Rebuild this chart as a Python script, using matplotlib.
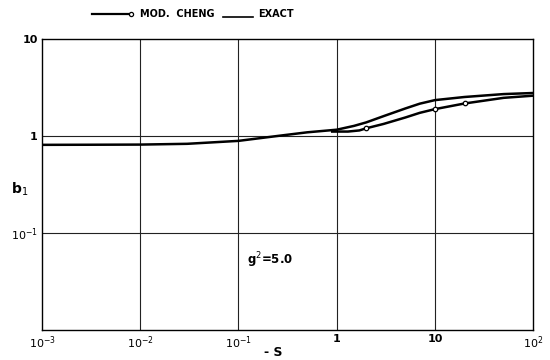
import matplotlib
matplotlib.use("Agg")
import matplotlib.pyplot as plt
from matplotlib.lines import Line2D

# b1 versus -s for g^2 = 5.0
exact_s = [1e-3, 3e-3, 1e-2, 3e-2, 0.1, 0.25, 0.5, 1.0, 1.5, 2.0, 3.0, 5.0, 7.0, 10.0, 20.0, 50.0, 100.0]
exact_b1 = [0.81, 0.812, 0.815, 0.83, 0.89, 1.0, 1.09, 1.16, 1.27, 1.38, 1.6, 1.92, 2.15, 2.34, 2.52, 2.7, 2.77]

cheng_s = [0.9, 1.3, 1.7, 2.0, 3.0, 5.0, 7.0, 10.0, 20.0, 50.0, 100.0]
cheng_b1 = [1.11, 1.11, 1.14, 1.2, 1.33, 1.55, 1.73, 1.89, 2.16, 2.47, 2.6]
cheng_marks_s = [2.0, 10.0, 20.0]
cheng_marks_b1 = [1.2, 1.89, 2.16]

x_ticks = [1e-3, 1e-2, 1e-1, 1, 10, 100]
x_labels = [r"$10^{-3}$", r"$10^{-2}$", r"$10^{-1}$", "1", "10", r"$10^{2}$"]
y_ticks = [1e-1, 1, 10]
y_labels = [r"$10^{-1}$", "1", "10"]

fig = plt.figure(figsize=(5.5, 3.6), dpi=100)
ax = fig.add_axes([0.0764, 0.083, 0.893, 0.809])
ax.set_xscale("log")
ax.set_yscale("log")
ax.set_xlim(1e-3, 1e2)
ax.set_ylim(1e-2, 10)

for xv in x_ticks[1:-1]:
    ax.axvline(xv, color="#222222", lw=0.8, zorder=1)
for yv in [1e-1, 1]:
    ax.axhline(yv, color="#222222", lw=0.8, zorder=1)

ax.plot(exact_s, exact_b1, color="black", lw=1.8, zorder=3)
ax.plot(cheng_s, cheng_b1, color="black", lw=1.8, zorder=3)
ax.plot(cheng_marks_s, cheng_marks_b1, ls="none", marker="o", ms=3.2,
        mfc="white", mec="black", mew=0.9, zorder=4)

ax.set_xticks(x_ticks)
ax.set_xticklabels(x_labels)
ax.set_yticks(y_ticks)
ax.set_yticklabels(y_labels)
ax.minorticks_off()
ax.tick_params(length=0, labelsize=8, pad=3)
for lab in ax.get_xticklabels() + ax.get_yticklabels():
    lab.set_fontweight("bold")
for sp in ax.spines.values():
    sp.set_linewidth(1.0)

ax.set_xlabel("- S", fontsize=9, fontweight="bold", va="center")
ax.xaxis.set_label_coords(0.47, -0.078)
ax.set_ylabel(r"b$_1$", fontsize=10, fontweight="bold", rotation=0, va="center")
ax.yaxis.set_label_coords(-0.045, 0.485)

ax.text(0.21, 0.052, r"g$^2$=5.0", fontsize=8.5, fontweight="bold",
        ha="center", va="center")

# legend row above the axes
fig.add_artist(Line2D([0.167, 0.235], [0.962, 0.962], color="black", lw=1.6,
                      transform=fig.transFigure))
fig.add_artist(Line2D([0.238], [0.962], marker="o", ms=3, mfc="white",
                      mec="black", mew=0.9, transform=fig.transFigure))
fig.text(0.255, 0.962, "MOD.  CHENG", fontsize=7, fontweight="bold", va="center")
fig.add_artist(Line2D([0.405, 0.46], [0.952, 0.952], color="black", lw=1.2,
                      transform=fig.transFigure))
fig.text(0.47, 0.962, "EXACT", fontsize=7, fontweight="bold", va="center")

fig.savefig("out.png", dpi=100)
